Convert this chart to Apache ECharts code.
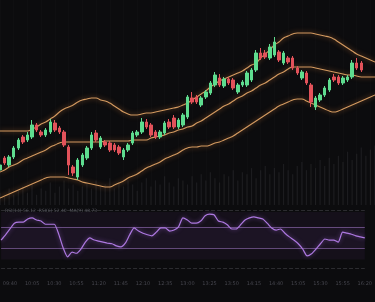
<!DOCTYPE html>
<html>
<head>
<meta charset="utf-8">
<script src="https://cdn.jsdelivr.net/npm/echarts@6/dist/echarts.min.js"></script>
<style>
  html, body { margin: 0; padding: 0; background: #0b0b0d; }
  #main { width: 375px; height: 302px; }
</style>
</head>
<body>
<div id="main"></div>
<script>
// 价格 K 线 [开, 收, 低, 高]
const candles = [
  [30,35,27,38],[42,37,35,44],[35,43,33,45],[43,52,41,54],[52,60,50,62],
  [63,58,56,65],[60,65,58,68],[63,75,61,80],[75,70,68,77],[68,65,63,70],
  [65,70,63,72],[68,78,66,81],[77,70,68,80],[72,68,66,74],[68,55,53,70],
  [53,35,25,55],[33,27,24,35],[23,40,20,42],[35,45,33,47],[42,52,40,54],
  [52,65,50,68],[67,60,58,70],[53,62,51,64],[58,55,53,60],[57,50,48,59],
  [55,50,48,57],[53,47,45,55],[43,50,40,52],[50,55,48,57],[57,67,55,69],
  [65,68,63,70],[68,78,66,82],[78,73,71,81],[75,65,63,77],[68,63,61,70],
  [63,68,61,70],[67,77,65,79],[78,73,71,81],[82,73,71,85],[73,80,71,82],
  [75,85,73,87],[83,103,81,105],[102,98,96,108],[103,98,96,105],[95,102,93,104],
  [103,108,101,110],[107,117,105,119],[115,125,113,128],[122,115,113,126],[114,121,112,123],
  [121,117,115,123],[120,112,110,122],[108,115,106,117],[115,118,113,120],[115,127,113,129],
  [120,130,118,132],[130,147,128,150],[147,142,140,152],[147,143,141,150],[142,153,140,156],
  [145,158,143,163],[148,140,138,150],[137,147,135,149],[142,138,136,144],[142,132,130,144],
  [132,127,125,134],[122,128,120,130],[127,117,115,129],[115,98,93,117],[93,102,90,104],
  [100,105,98,107],[105,112,103,114],[110,120,108,122],[123,120,118,126],[123,117,115,125],
  [117,122,115,124],[120,123,118,125],[123,137,121,140],[137,132,130,142],[137,130,128,139],
  '-','-','-'
];
// 布林带 上轨 / 中轨 / 下轨
const upper = [69,69,69,69,69,69,69,71,73,76,78,81,84,88,91,93,95,98,100,101,
  102,102,100,99,97,94,91,88,86,85,85,86,87,87,88,89,90,91,92,93,
  95,97,100,103,106,109,113,116,119,121,123,125,127,129,132,135,137,142,146,150,
  155,158,162,164,166,167,167,167,167,166,165,164,163,161,158,155,152,149,146,144,
  142,140,138];
const middle = [28,30,33,35,37,40,42,44,46,48,50,53,55,57,58,58,58,58,58,58,
  58,58,58,59,59,59,59,59,59,60,60,60,60,62,63,64,65,67,68,70,
  71,73,74,77,79,82,85,88,91,94,96,99,102,104,107,109,112,115,117,120,
  123,126,128,131,133,133,133,133,133,132,131,130,129,128,127,126,125,125,124,123,
  123,123,123];
const lower = [2,4,6,8,10,12,14,16,18,20,22,23,23,23,23,22,21,20,18,17,
  16,15,14,13,13,15,17,19,22,24,26,29,32,34,36,38,41,43,45,47,
  50,52,53,53,54,54,55,57,58,60,62,64,67,70,73,76,79,82,85,88,
  91,94,96,98,100,101,101,99,97,95,93,91,89,88,89,91,93,95,97,99,
  101,103,105];
// 成交量
const volume = [6,4,8,5,7,9,6,10,5,8,7,11,6,9,12,8,10,7,9,11,
  8,12,9,10,13,8,11,9,12,10,7,11,13,9,12,10,14,11,9,13,
  12,10,14,11,15,12,16,13,11,15,14,17,12,16,15,18,13,17,19,15,
  18,16,20,17,15,19,21,17,20,18,22,19,23,20,24,21,26,22,25,28,
  24,27,29];
// RSI
const rsi = [45,55,66,77,79,79,85,87,83,81,75,75,75,56,30,13,22,20,28,41,
  49,45,43,41,39,38,34,32,39,55,68,62,58,55,53,60,68,68,62,64,
  70,87,83,77,77,81,91,94,93,81,79,74,66,66,74,83,87,89,87,85,
  77,68,64,66,58,51,45,38,28,15,19,28,38,47,45,45,41,60,58,56,
  53,51,49];
const rsiTitle = 'RSI(14) 56.12  RSI(6) 52.40  MA(9) 48.73';

const times = [];
for (let i = 0; i < upper.length; i++) {
  const m = 9 * 60 + 30 + i * 5;
  times.push(String(Math.floor(m / 60)).padStart(2, '0') + ':' + String(m % 60).padStart(2, '0'));
}

const myChart = echarts.init(document.getElementById('main'));

const bandLine = (name, data) => ({
  name: name,
  type: 'line',
  data: data,
  smooth: true,
  showSymbol: false,
  silent: true,
  lineStyle: { color: '#d39a60', width: 1.1, shadowBlur: 5, shadowColor: 'rgba(255,150,70,0.6)' },
  z: 3
});

const option = {
  backgroundColor: '#0c0c0e',
  animation: false,
  title: {
    text: rsiTitle,
    left: 0,
    top: 203,
    textStyle: { color: '#55555e', fontSize: 4.5, fontWeight: 'normal', fontFamily: 'DejaVu Sans' }
  },
  grid: [
    { left: 0, right: 0, top: 0, height: 205 },
    { left: 0, right: 0, top: 210, height: 58 }
  ],
  xAxis: [
    {
      type: 'category', gridIndex: 0, data: times, boundaryGap: false,
      axisLine: { show: false }, axisTick: { show: false }, axisLabel: { show: false },
      splitLine: { show: true, interval: 2, lineStyle: { color: 'rgba(255,255,255,0.014)' } }
    },
    {
      type: 'category', gridIndex: 1, data: times, boundaryGap: false,
      axisLine: { show: false }, axisTick: { show: false },
      axisLabel: {
        color: '#46464e', fontSize: 5, margin: 13, fontFamily: 'DejaVu Sans',
        interval: (i) => i % 5 === 2
      },
      splitLine: { show: false }
    }
  ],
  yAxis: [
    { type: 'value', gridIndex: 0, min: -5, max: 200, show: false },
    { type: 'value', gridIndex: 0, min: 0, max: 100, show: false },
    { type: 'value', gridIndex: 1, min: -8, max: 102, show: false }
  ],
  series: [
    {
      name: '成交量', type: 'bar', xAxisIndex: 0, yAxisIndex: 1, data: volume,
      barWidth: 1.2, silent: true,
      itemStyle: { color: 'rgba(150,150,160,0.12)' }, z: 1
    },
    bandLine('上轨', upper),
    bandLine('中轨', middle),
    bandLine('下轨', lower),
    {
      name: 'K线', type: 'candlestick', xAxisIndex: 0, yAxisIndex: 0, data: candles,
      barWidth: 3,
      itemStyle: {
        color: '#5edc8f', color0: '#e2525a',
        borderColor: '#5edc8f', borderColor0: '#e2525a', borderWidth: 1
      },
      z: 4
    },
    {
      name: 'RSI', type: 'line', xAxisIndex: 1, yAxisIndex: 2, data: rsi,
      showSymbol: false, smooth: 0.2,
      lineStyle: { color: '#ad78e0', width: 1.2, shadowBlur: 4, shadowColor: 'rgba(170,110,230,0.6)' },
      markLine: {
        silent: true, symbol: 'none', label: { show: false },
        data: [
          { yAxis: 70, lineStyle: { color: 'rgba(175,130,215,0.5)', width: 1, type: 'solid' } },
          { yAxis: 30, lineStyle: { color: 'rgba(175,130,215,0.5)', width: 1, type: 'solid' } },
          { yAxis: 102, lineStyle: { color: 'rgba(140,140,150,0.25)', width: 1, type: 'dashed' } },
          { yAxis: -8, lineStyle: { color: 'rgba(140,140,150,0.25)', width: 1, type: 'dashed' } }
        ]
      },
      markArea: {
        silent: true,
        data: [
          [{ yAxis: 8, itemStyle: { color: 'rgba(70,40,95,0.16)' } }, { yAxis: 98 }],
          [{ yAxis: 30, itemStyle: { color: 'rgba(95,60,130,0.1)' } }, { yAxis: 70 }]
        ]
      },
      z: 5
    }
  ]
};
myChart.setOption(option);
</script>
</body>
</html>
